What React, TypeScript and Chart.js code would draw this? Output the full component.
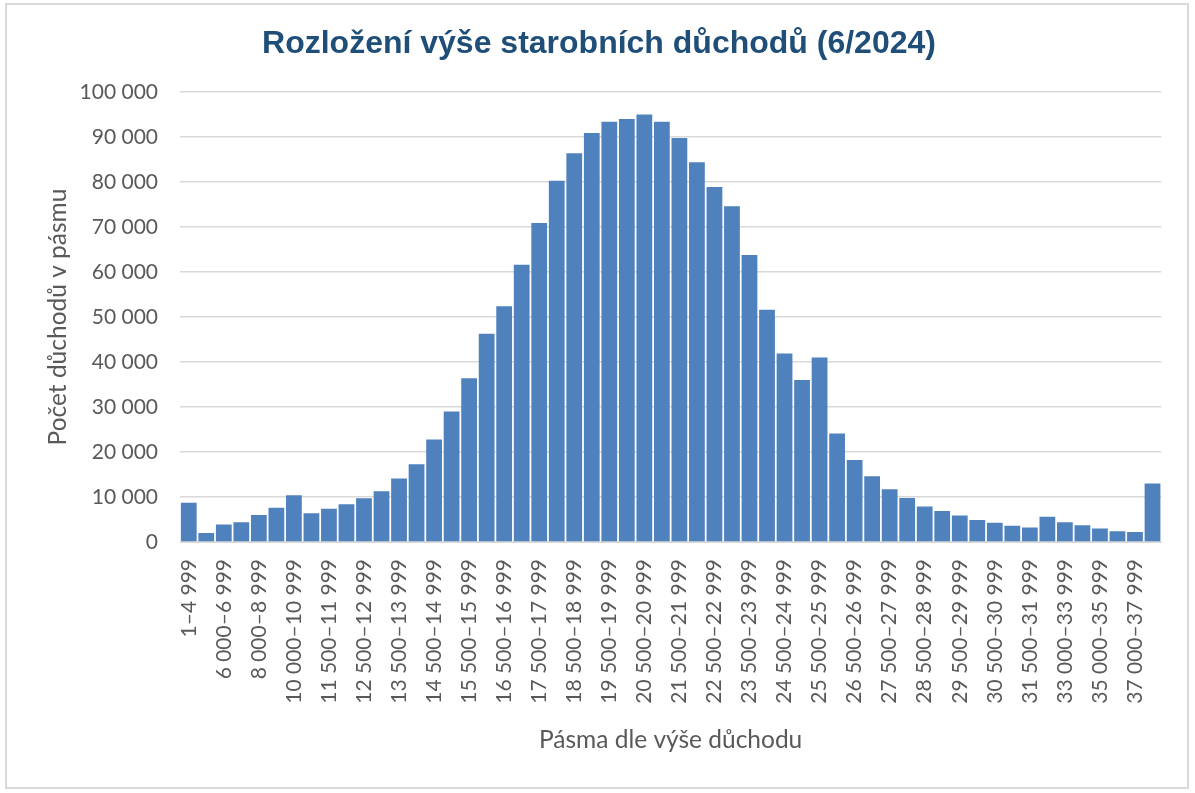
import React, { useEffect, useRef } from "react";
import { Chart, registerables } from "chart.js";

Chart.register(...registerables);

const chartTitle = "Rozložení výše starobních důchodů (6/2024)";
const xTitle = "Pásma dle výše důchodu";
const yTitle = "Počet důchodů v pásmu";

const categories = [
  "1–4 999",
  "5 000–5 999",
  "6 000–6 999",
  "7 000–7 999",
  "8 000–8 999",
  "9 000–9 999",
  "10 000–10 999",
  "11 000–11 499",
  "11 500–11 999",
  "12 000–12 499",
  "12 500–12 999",
  "13 000–13 499",
  "13 500–13 999",
  "14 000–14 499",
  "14 500–14 999",
  "15 000–15 499",
  "15 500–15 999",
  "16 000–16 499",
  "16 500–16 999",
  "17 000–17 499",
  "17 500–17 999",
  "18 000–18 499",
  "18 500–18 999",
  "19 000–19 499",
  "19 500–19 999",
  "20 000–20 499",
  "20 500–20 999",
  "21 000–21 499",
  "21 500–21 999",
  "22 000–22 499",
  "22 500–22 999",
  "23 000–23 499",
  "23 500–23 999",
  "24 000–24 499",
  "24 500–24 999",
  "25 000–25 499",
  "25 500–25 999",
  "26 000–26 499",
  "26 500–26 999",
  "27 000–27 499",
  "27 500–27 999",
  "28 000–28 499",
  "28 500–28 999",
  "29 000–29 499",
  "29 500–29 999",
  "30 000–30 499",
  "30 500–30 999",
  "31 000–31 499",
  "31 500–31 999",
  "32 000–32 999",
  "33 000–33 999",
  "34 000–34 999",
  "35 000–35 999",
  "36 000–36 999",
  "37 000–37 999",
  "38 000 a více",
];

const counts = [
  8700, 2000, 3900, 4400, 6000, 7600, 10400, 6400, 7400, 8400,
  9700, 11300, 14100, 17300, 22800, 29000, 36400, 46300, 52400, 61600,
  70900, 80300, 86400, 90900, 93400, 94000, 95000, 93400, 89800, 84400,
  78900, 74600, 63800, 51600, 41900, 36000, 41000, 24100, 18200, 14600,
  11700, 9800, 7900, 6900, 5900, 4900, 4300, 3600, 3200, 5600,
  4400, 3700, 3000, 2400, 2200, 13000,
];

const yMin = 0;
const yMax = 100000;
const yStep = 10000;

const fmt = (v: number) =>
  String(Math.round(v)).replace(/\B(?=(\d{3})+(?!\d))/g, " ");

const titlePlugin = {
  id: "customTitle",
  afterDraw(chart: any) {
    const ctx = chart.ctx;
    ctx.save();
    ctx.font = 'bold 32px "Liberation Sans"';
    ctx.fillStyle = "#1f4e79";
    ctx.textAlign = "center";
    ctx.textBaseline = "alphabetic";
    ctx.fillText(chartTitle, 599, 53);
    ctx.restore();
  },
};

export default function App() {
  const ref = useRef<HTMLCanvasElement | null>(null);

  useEffect(() => {
    if (!ref.current) return;
    const tickFont = { family: "Lato", size: 21 };
    const axisTitleFont = { family: "Lato", size: 24.5 };
    const chart = new Chart(ref.current, {
      type: "bar",
      data: {
        labels: categories,
        datasets: [
          {
            data: counts,
            backgroundColor: "#4f81bd",
            borderWidth: 0,
            barPercentage: 0.9,
            categoryPercentage: 1.0,
          },
        ],
      },
      options: {
        animation: false,
        responsive: false,
        maintainAspectRatio: false,
        layout: { padding: { left: 0, right: 33, top: 92, bottom: 0 } },
        plugins: {
          legend: { display: false },
          tooltip: { enabled: false },
          title: { display: false },
        },
        scales: {
          x: {
            grid: { display: false, drawTicks: false },
            border: { display: true, color: "#d9d9d9" },
            ticks: {
              autoSkip: false,
              maxRotation: 90,
              minRotation: 90,
              padding: 17,
              color: "#595959",
              font: tickFont,
              callback: (_v: any, i: number) => (i % 2 === 0 ? categories[i] : ""),
            },
            title: {
              display: true,
              text: xTitle,
              color: "#595959",
              font: axisTitleFont,
              padding: { top: 0, bottom: 38 },
            },
            afterFit: (s: any) => {
              s.height = 793 - 542;
            },
          },
          y: {
            min: yMin,
            max: yMax,
            grid: { color: "#d9d9d9", drawTicks: false, lineWidth: 1.5 },
            border: { display: false },
            ticks: {
              stepSize: yStep,
              padding: 22,
              color: "#595959",
              font: tickFont,
              callback: (v: any) => fmt(Number(v)),
            },
            title: {
              display: true,
              text: yTitle,
              color: "#595959",
              font: axisTitleFont,
              padding: { top: 43, bottom: 0 },
            },
            afterFit: (s: any) => {
              s.width = 180;
            },
          },
        },
      },
      plugins: [titlePlugin],
    });
    return () => chart.destroy();
  }, []);

  return (
    <div
      style={{
        position: "fixed",
        left: 0,
        top: 0,
        width: 1195,
        height: 793,
        background: "#ffffff",
      }}
    >
      <canvas ref={ref} width={1195} height={793} style={{ width: 1195, height: 793, display: "block" }} />
      <div
        style={{
          position: "absolute",
          left: 5,
          top: 3,
          width: 1180,
          height: 782,
          border: "2px solid #d9d9d9",
          pointerEvents: "none",
        }}
      />
    </div>
  );
}
